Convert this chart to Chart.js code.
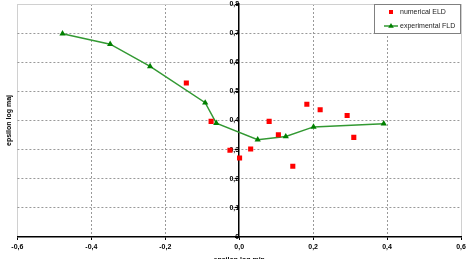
<!DOCTYPE html>
<html>
<head>
<meta charset="utf-8">
<script src="https://cdn.jsdelivr.net/npm/chart.js@4.4.1/dist/chart.umd.min.js"></script>
<style>
  html, body { margin: 0; padding: 0; background: #fff; overflow: hidden; }
  #wrap { width: 466px; height: 268px; }
</style>
</head>
<body>
<div id="wrap"><canvas id="fld-chart" width="466" height="268"></canvas></div>
<script>
// numerical ELD (red squares)
var eld_x = [-0.143, -0.076, -0.025, 0.001, 0.031, 0.081, 0.106, 0.145, 0.183, 0.219, 0.292, 0.310];
var eld_y = [0.529, 0.397, 0.298, 0.271, 0.302, 0.397, 0.351, 0.243, 0.456, 0.437, 0.417, 0.342];
// experimental FLD (green line)
var fld_x = [-0.478, -0.349, -0.241, -0.092, -0.062, 0.050, 0.126, 0.201, 0.391];
var fld_y = [0.698, 0.662, 0.586, 0.461, 0.391, 0.334, 0.345, 0.378, 0.389];

var series_names = ["numerical ELD", "experimental FLD"];
var x_title = "epsilon log min";
var y_title = "epsilon log maj";

function toPoints(xs, ys) {
	var pts = [];
	for (var i = 0; i < xs.length; i++) {
		pts.push({x: xs[i], y: ys[i]});
	}
	return pts;
}

function fmt(v, zeroText) {
	if (Math.abs(v) < 1e-9) return zeroText;
	return v.toFixed(1).replace(".", ",");
}

Chart.defaults.font.family = "'Liberation Sans', Arial, sans-serif";
Chart.defaults.color = "#000";

// legend box drawn inside the plot, top right
var legendBox = {
	id: "legendBox",
	afterDatasetsDraw: function(chart) {
		var ctx = chart.ctx;
		var a = chart.chartArea;
		var w = 86, h = 29;
		var x0 = Math.round(a.right - w - 1), y0 = Math.round(a.top);
		ctx.save();
		ctx.fillStyle = "#fff";
		ctx.fillRect(x0, y0, w, h);
		ctx.strokeStyle = "#808080";
		ctx.lineWidth = 1;
		ctx.strokeRect(x0 + 0.5, y0 + 0.5, w, h);
		ctx.font = "7px 'Liberation Sans', Arial, sans-serif";
		ctx.textBaseline = "middle";
		ctx.textAlign = "left";
		chart.data.datasets.forEach(function(ds, i) {
			var cy = y0 + 8 + i * 14;
			var cx = x0 + 17;
			if (ds.showLine) {
				ctx.strokeStyle = ds.borderColor;
				ctx.lineWidth = ds.borderWidth;
				ctx.beginPath();
				ctx.moveTo(x0 + 10, cy);
				ctx.lineTo(x0 + 24, cy);
				ctx.stroke();
			}
			ctx.fillStyle = ds.pointBackgroundColor;
			ctx.beginPath();
			if (ds.pointStyle === "triangle") {
				ctx.moveTo(cx, cy - 3);
				ctx.lineTo(cx + 2.8, cy + 1.8);
				ctx.lineTo(cx - 2.8, cy + 1.8);
				ctx.closePath();
			} else {
				ctx.rect(cx - 2, cy - 2, 4, 4);
			}
			ctx.fill();
			ctx.fillStyle = "#222";
			ctx.fillText(ds.label, x0 + 26, cy);
		});
		ctx.restore();
	}
};

var fld_canvas = document.getElementById("fld-chart");
var fld_chart = new Chart(fld_canvas, {
	type: "scatter",
	data: {
		datasets: [{
			label: series_names[0],
			data: toPoints(eld_x, eld_y),
			yAxisID: "y",
			showLine: false,
			pointStyle: "rect",
			pointRadius: 3.6,
			pointBackgroundColor: "#ff0000",
			pointBorderColor: "#ff0000",
			pointBorderWidth: 0
		}, {
			label: series_names[1],
			data: toPoints(fld_x, fld_y),
			yAxisID: "y",
			showLine: true,
			borderColor: "#339933",
			borderWidth: 1.5,
			pointStyle: "triangle",
			pointRadius: 3.6,
			pointBackgroundColor: "#008000",
			pointBorderColor: "#008000",
			pointBorderWidth: 0
		}]
	},
	options: {
		responsive: false,
		animation: false,
		layout: {
			padding: {left: 1, right: 5, top: 3, bottom: 0}
		},
		plugins: {
			legend: {display: false},
			tooltip: {enabled: false}
		},
		scales: {
			x: {
				type: "linear",
				position: "bottom",
				min: -0.6,
				max: 0.6,
				afterFit: function(scale) {
					scale.height = 31;
					scale.paddingLeft = 0;
					scale.paddingRight = 0;
				},
				ticks: {
					stepSize: 0.2,
					padding: 3,
					font: {size: 7, weight: "bold"},
					callback: function(v) { return fmt(v, "0,0"); }
				},
				grid: {
					tickLength: 3,
					tickColor: "#000",
					tickBorderDash: [],
					lineWidth: 1,
					color: function(c) {
						var v = c.tick ? c.tick.value : 0;
						if (Math.abs(v) < 1e-9) return "rgba(0,0,0,0)";
						if (Math.abs(Math.abs(v) - 0.6) < 1e-9) return "#d0d0d0";
						return "#999";
					}
				},
				border: {
					display: true,
					color: "#000",
					width: 1.5,
					dash: function(c) {
						var v = c.tick ? c.tick.value : 0;
						if (Math.abs(Math.abs(v) - 0.6) < 1e-9) return [];
						return [2, 2];
					}
				},
				title: {
					display: true,
					text: x_title,
					font: {size: 7, weight: "bold"},
					padding: {top: 4, bottom: 4}
				}
			},
			y: {
				type: "linear",
				position: {x: 0},
				min: 0,
				max: 0.8,
				afterFit: function(scale) {
					scale.width = 0;
					scale.paddingTop = 0;
					scale.paddingBottom = 0;
				},
				ticks: {
					stepSize: 0.1,
					padding: 3,
					font: {size: 7, weight: "bold"},
					callback: function(v) { return fmt(v, "0"); }
				},
				grid: {
					tickLength: 3,
					tickColor: "#000",
					tickBorderDash: [],
					lineWidth: 1,
					color: function(c) {
						var v = c.tick ? c.tick.value : 0;
						if (Math.abs(v) < 1e-9) return "rgba(0,0,0,0)";
						if (Math.abs(v - 0.8) < 1e-9) return "#d0d0d0";
						return "#999";
					}
				},
				border: {
					display: true,
					color: "#000",
					width: 1.5,
					dash: function(c) {
						var v = c.tick ? c.tick.value : 0;
						if (Math.abs(v - 0.8) < 1e-9) return [];
						return [2, 2];
					}
				}
			},
			yt: {
				type: "linear",
				position: "left",
				min: 0,
				max: 0.8,
				ticks: {display: false},
				grid: {display: false, drawTicks: false},
				border: {display: false},
				title: {
					display: true,
					text: y_title,
					font: {size: 7, weight: "bold"},
					padding: {top: 4, bottom: 4}
				}
			}
		}
	},
	plugins: [legendBox]
});
</script>
</body>
</html>
